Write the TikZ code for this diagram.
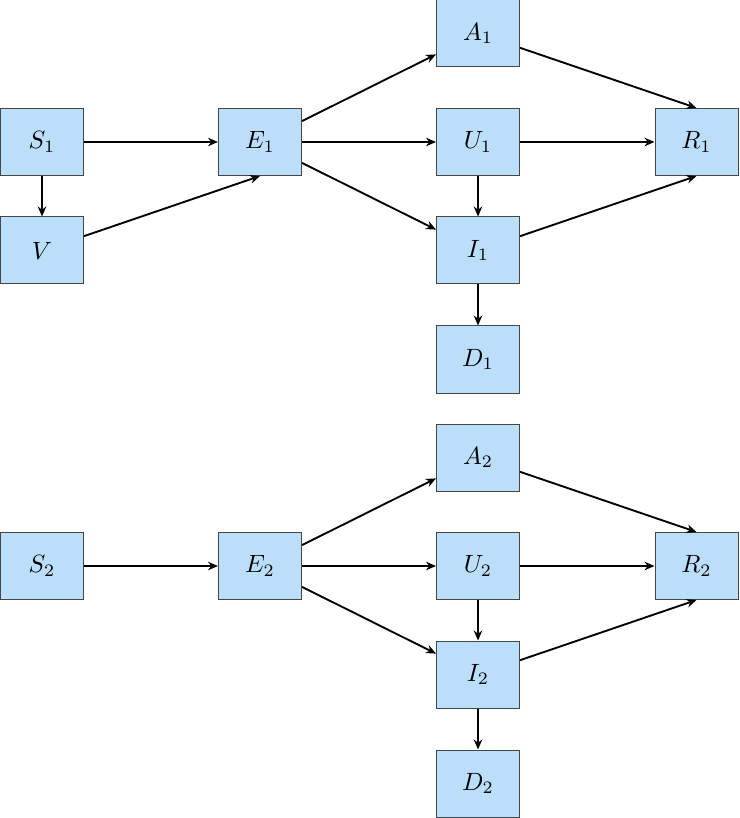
\documentclass[tikz,border=0pt]{standalone}
\usetikzlibrary{arrows.meta}
\definecolor{boxfill}{RGB}{187,222,251}
\definecolor{boxline}{RGB}{70,70,70}
\begin{document}
\begin{tikzpicture}[x=0.4pt,y=-0.4pt,
  box/.style={draw=boxline,fill=boxfill,line width=0.4pt,minimum width=33.2pt,minimum height=26.8pt,inner sep=0pt},
  arr/.style={-{Stealth[length=4pt,width=3.4pt]},line width=0.75pt}]
\useasboundingbox (0,0) rectangle (739,818);
\foreach \k/\dy in {1/0,2/424}{
  \node[box] (S\k) at (42,142+\dy) {$S_\k$};
  \node[box] (E\k) at (260,142+\dy) {$E_\k$};
  \node[box] (A\k) at (478,33.5+\dy) {$A_\k$};
  \node[box] (U\k) at (478,142+\dy) {$U_\k$};
  \node[box] (I\k) at (478,250.5+\dy) {$I_\k$};
  \node[box] (D\k) at (478,359.5+\dy) {$D_\k$};
  \node[box] (R\k) at (696.5,142+\dy) {$R_\k$};
  \draw[arr] (S\k) -- (E\k);
  \draw[arr] (E\k) -- (A\k);
  \draw[arr] (E\k) -- (U\k);
  \draw[arr] (E\k) -- (I\k);
  \draw[arr] (U\k) -- (I\k);
  \draw[arr] (I\k) -- (D\k);
  \draw[arr] (U\k) -- (R\k);
  \draw[arr] (A\k) -- (R\k.north);
  \draw[arr] (I\k) -- (R\k.south);
}
\node[box] (V) at (42,250.5) {$V$};
\draw[arr] (S1) -- (V);
\draw[arr] (V) -- (E1.south);
\end{tikzpicture}
\end{document}
